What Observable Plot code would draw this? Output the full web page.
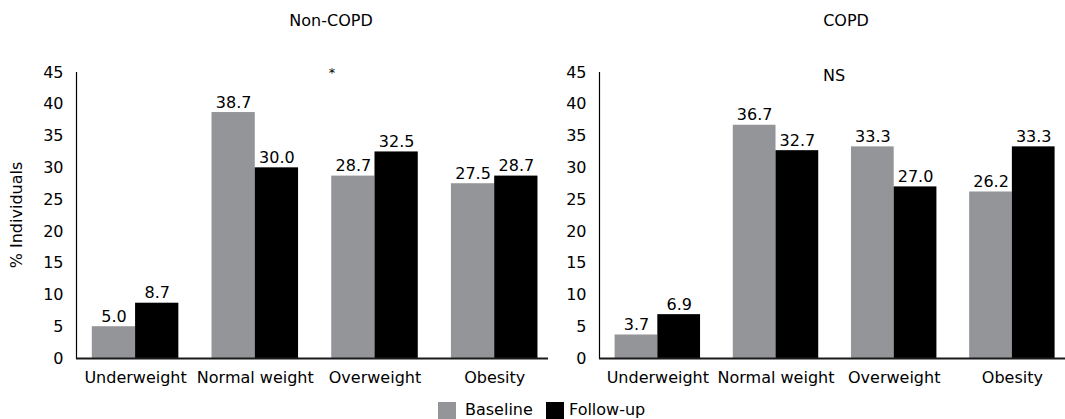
<!DOCTYPE html>
<html><head><meta charset="utf-8">
<script src="https://cdn.jsdelivr.net/npm/d3@7"></script>
<script src="https://cdn.jsdelivr.net/npm/@observablehq/plot@0.6"></script>
<style>
body{margin:0;overflow:hidden;background:#fff;font-family:"DejaVu Sans",sans-serif;}
#wrap{position:relative;width:1065px;height:419px;overflow:hidden;background:#fff;}
.abs{position:absolute;font-size:16px;color:#000;white-space:nowrap;line-height:1;}
.c{transform:translate(-50%,-50%);}
.sw{position:absolute;width:18px;height:18px;}
svg{position:absolute;top:0;overflow:visible;}
</style></head><body><div id="wrap"></div>
<script>
const categories = ["Underweight", "Normal weight", "Overweight", "Obesity"];
const series = ["Baseline", "Follow-up"];
const nonCopdBaseline = [5.0, 38.7, 28.7, 27.5];
const nonCopdFollowup = [8.7, 30.0, 32.5, 28.7];
const copdBaseline = [3.7, 36.7, 33.3, 26.2];
const copdFollowup = [6.9, 32.7, 27.0, 33.3];
const yTicks = [0, 5, 10, 15, 20, 25, 30, 35, 40, 45];
const panelTitles = ["Non-COPD", "COPD"];
const significance = ["*", "NS"];
const yLabel = "% Individuals";
const colors = ["#939598", "#000000"];

const wrap = document.getElementById("wrap");
const PI = 0.277, PO = 0.11, AL = 0.6;

function panel(base, follow, cfg) {
  const data = [];
  categories.forEach((c, i) => {
    data.push({cat: c, series: series[0], value: base[i]});
    data.push({cat: c, series: series[1], value: follow[i]});
  });
  const W = cfg.width - cfg.marginLeft - cfg.marginRight;
  const step = W / (categories.length - PI + 2 * PO);
  const bw = step * (1 - PI);
  const b = data.filter(d => d.series === series[0]);
  const f = data.filter(d => d.series === series[1]);
  const svg = Plot.plot({
    width: cfg.width,
    height: 400,
    marginTop: 72,
    marginBottom: 42,
    marginLeft: cfg.marginLeft,
    marginRight: cfg.marginRight,
    style: {fontFamily: "DejaVu Sans, sans-serif", fontSize: "16px", color: "#000", background: "transparent", overflow: "visible"},
    x: {domain: categories, paddingInner: PI, paddingOuter: PO, align: AL, round: false, tickSize: 0, tickPadding: 13, label: null},
    y: {domain: [0, 45], ticks: yTicks, tickSize: 0, tickPadding: 13, label: null},
    marks: [
      Plot.barY(b, {x: "cat", y: "value", fill: colors[0], insetRight: bw / 2}),
      Plot.barY(f, {x: "cat", y: "value", fill: colors[1], insetLeft: bw / 2}),
      Plot.text(b, {x: "cat", y: "value", text: d => d.value.toFixed(1), dx: -bw / 4, dy: -5, lineAnchor: "bottom", fontSize: 16, fill: "#000"}),
      Plot.text(f, {x: "cat", y: "value", text: d => d.value.toFixed(1), dx: bw / 4, dy: -5, lineAnchor: "bottom", fontSize: 16, fill: "#000"}),
      Plot.frame({anchor: "left", stroke: "#000", strokeWidth: 1.2}),
      Plot.ruleY([0], {stroke: "#1a1a1a", strokeWidth: 2})
    ]
  });
  svg.style.left = cfg.left + "px";
  wrap.appendChild(svg);
}

panel(nonCopdBaseline, nonCopdFollowup, {left: 0, width: 560, marginLeft: 76, marginRight: 12});
panel(copdBaseline, copdFollowup, {left: 530, width: 535, marginLeft: 69, marginRight: 0});

function addText(txt, x, y, size, extra) {
  const d = document.createElement("div");
  d.className = "abs c";
  d.textContent = txt;
  d.style.left = x + "px";
  d.style.top = y + "px";
  d.style.fontSize = size + "px";
  if (extra) d.style.transform = extra;
  wrap.appendChild(d);
  return d;
}
addText(panelTitles[0], 331, 21, 16);
addText(panelTitles[1], 846, 21, 16);
addText(significance[0], 332, 72, 13);
addText(significance[1], 834, 76, 16);
addText(yLabel, 17, 215, 16, "translate(-50%,-50%) rotate(-90deg)");

// legend
const legendX = [438, 546];
series.forEach((s, i) => {
  const sw = document.createElement("div");
  sw.className = "sw";
  sw.style.left = legendX[i] + "px";
  sw.style.top = "402px";
  sw.style.background = colors[i];
  wrap.appendChild(sw);
  const t = document.createElement("div");
  t.className = "abs";
  t.textContent = s;
  t.style.left = (legendX[i] + (i === 0 ? 27 : 23)) + "px";
  t.style.top = "402px";
  wrap.appendChild(t);
});
</script></body></html>
